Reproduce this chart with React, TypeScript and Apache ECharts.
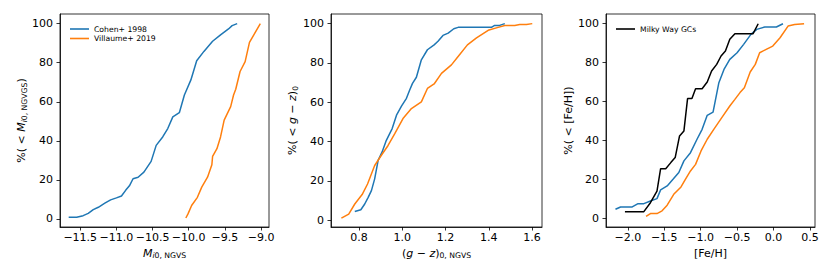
import React, { useEffect, useRef } from 'react';
import * as echarts from 'echarts';

// ---- Data (cumulative percentages) ----
const cohenMag: [number, number][] = [
  [-11.66, 0.9], [-11.55, 0.9], [-11.46, 1.7], [-11.39, 2.9], [-11.32, 4.8], [-11.25, 6.0],
  [-11.16, 8.1], [-11.08, 9.8], [-11.0, 10.8], [-10.93, 11.8], [-10.87, 14.8], [-10.82, 17.0],
  [-10.77, 20.6], [-10.7, 21.4], [-10.62, 24.0], [-10.52, 29.5], [-10.45, 37.7], [-10.36, 42.0],
  [-10.29, 46.3], [-10.22, 52.3], [-10.13, 54.4], [-10.06, 63.5], [-9.97, 71.2], [-9.89, 81.0],
  [-9.79, 85.8], [-9.67, 91.0], [-9.56, 94.3], [-9.45, 97.3], [-9.4, 99.0], [-9.33, 100],
];
const villaumeMag: [number, number][] = [
  [-10.04, 0.5], [-10.01, 2.6], [-9.96, 6.9], [-9.88, 11.1], [-9.82, 16.3], [-9.74, 21.4],
  [-9.68, 27.8], [-9.67, 32.0], [-9.61, 36.0], [-9.56, 42.0], [-9.51, 50.6], [-9.42, 57.5],
  [-9.38, 63.5], [-9.35, 66.4], [-9.29, 75.5], [-9.22, 80.6], [-9.16, 90.4], [-9.1, 94.3],
  [-9.01, 100],
];
const cohenColor: [number, number][] = [
  [0.78, 4.4], [0.808, 5.3], [0.826, 8.2], [0.842, 11.6], [0.857, 15.0], [0.872, 21.0],
  [0.888, 30.4], [0.906, 34.6], [0.926, 40.6], [0.953, 46.6], [0.973, 53.4], [0.996, 58.0],
  [1.019, 62.0], [1.034, 66.2], [1.047, 69.6], [1.065, 72.7], [1.088, 81.6], [1.116, 86.7],
  [1.147, 89.2], [1.165, 91.0], [1.188, 94.0], [1.212, 95.2], [1.238, 97.4], [1.258, 98.1],
  [1.335, 98.1], [1.412, 98.1], [1.427, 99.1], [1.45, 99.1], [1.474, 100],
];
const villaumeColor: [number, number][] = [
  [0.718, 1.0], [0.752, 3.1], [0.78, 8.2], [0.814, 13.0], [0.839, 18.4], [0.872, 27.8],
  [0.903, 33.0], [0.934, 38.0], [0.965, 44.0], [1.003, 51.7], [1.042, 56.8], [1.088, 60.2],
  [1.116, 67.0], [1.147, 69.3], [1.181, 74.7], [1.227, 79.0], [1.258, 83.3], [1.301, 89.2],
  [1.343, 92.7], [1.397, 96.6], [1.443, 98.1], [1.474, 99.0], [1.52, 99.0], [1.543, 99.5],
  [1.574, 99.5], [1.601, 100],
];
const cohenFeH: [number, number][] = [
  [-2.17, 4.6], [-2.1, 5.8], [-1.94, 5.8], [-1.86, 7.5], [-1.78, 7.5], [-1.69, 8.9],
  [-1.6, 10.1], [-1.55, 14.6], [-1.46, 16.6], [-1.38, 20.0], [-1.3, 23.5], [-1.23, 29.5],
  [-1.14, 33.7], [-1.05, 40.6], [-0.98, 45.7], [-0.91, 52.9], [-0.83, 54.6], [-0.75, 69.7],
  [-0.68, 76.5], [-0.6, 81.7], [-0.5, 85.1], [-0.41, 89.4], [-0.31, 94.5], [-0.23, 97.1],
  [-0.12, 98.3], [0.04, 98.3], [0.13, 100],
];
const villaumeFeH: [number, number][] = [
  [-1.75, 0.9], [-1.69, 2.4], [-1.6, 2.4], [-1.53, 3.8], [-1.46, 6.7], [-1.37, 12.3],
  [-1.27, 16.1], [-1.21, 20.0], [-1.14, 24.3], [-1.07, 27.7], [-0.995, 34.6], [-0.91, 40.6],
  [-0.82, 45.7], [-0.71, 51.7], [-0.6, 57.7], [-0.53, 61.1], [-0.46, 64.6], [-0.4, 67.1],
  [-0.32, 75.2], [-0.25, 79.1], [-0.19, 85.1], [-0.1, 86.8], [-0.01, 88.5], [0.09, 92.8],
  [0.2, 98.8], [0.29, 99.6], [0.42, 100],
];
const milkyWayFeH: [number, number][] = [
  [-2.04, 3.4], [-1.78, 3.4], [-1.69, 8.0], [-1.6, 14.0], [-1.55, 25.5], [-1.48, 25.5],
  [-1.41, 28.6], [-1.35, 31.2], [-1.29, 42.3], [-1.23, 44.9], [-1.18, 61.5], [-1.12, 61.5],
  [-1.07, 66.6], [-0.98, 66.6], [-0.91, 70.0], [-0.85, 75.7], [-0.78, 79.1], [-0.72, 83.4],
  [-0.66, 86.0], [-0.6, 92.0], [-0.53, 94.9], [-0.28, 94.9], [-0.21, 100],
];

const magTicks = [-11.5, -11.0, -10.5, -10.0, -9.5, -9.0];
const colorTicks = [0.8, 1.0, 1.2, 1.4, 1.6];
const fehTicks = [-2.0, -1.5, -1.0, -0.5, 0.0, 0.5];
const pctTicks = [0, 20, 40, 60, 80, 100];

const seriesNames = ['Cohen+ 1998', 'Villaume+ 2019', 'Milky Way GCs'];

const BLUE = '#1f77b4';
const ORANGE = '#ff7f0e';
const FONT = 'DejaVu Sans';

const fmt1 = (v: number) => v.toFixed(1).replace('-', '\u2212');

const rich = {
  a: { fontSize: 11, fontFamily: FONT, color: '#000' },
  m: { fontSize: 11, fontFamily: FONT, fontStyle: 'italic', color: '#000' },
  s: { fontSize: 7.7, fontFamily: FONT, color: '#000', padding: [5, 0, 0, 0] },
  si: { fontSize: 7.7, fontFamily: FONT, fontStyle: 'italic', color: '#000', padding: [5, 0, 0, 0] },
};

function xAxisFor(idx: number, min: number, max: number, ticks: number[], name: string, formatter: (v: number) => string) {
  return {
    type: 'value', gridIndex: idx, min, max,
    name, nameLocation: 'middle', nameGap: 19,
    nameTextStyle: { fontFamily: FONT, fontSize: 11, color: '#000', rich },
    axisLine: { show: true, onZero: false, lineStyle: { color: '#000', width: 0.8 } },
    axisTick: { show: true, length: 3.5, customValues: ticks, lineStyle: { color: '#000', width: 0.8 } },
    axisLabel: { customValues: ticks, formatter, margin: 5, fontFamily: FONT, fontSize: 11, color: '#000' },
    splitLine: { show: false },
  };
}
function yAxisFor(idx: number, min: number, max: number, name: string) {
  return {
    type: 'value', gridIndex: idx, min, max,
    name, nameLocation: 'middle', nameGap: 32, nameRotate: 90,
    nameTextStyle: { fontFamily: FONT, fontSize: 11, color: '#000', rich },
    axisLine: { show: true, onZero: false, lineStyle: { color: '#000', width: 0.8 } },
    axisTick: { show: true, length: 3.5, customValues: pctTicks, lineStyle: { color: '#000', width: 0.8 } },
    axisLabel: { customValues: pctTicks, formatter: (v: number) => String(v), margin: 7, fontFamily: FONT, fontSize: 11, color: '#000' },
    splitLine: { show: false },
  };
}
function line(name: string, data: [number, number][], idx: number, color: string) {
  return {
    type: 'line', name, data, xAxisIndex: idx, yAxisIndex: idx,
    showSymbol: false, symbol: 'none', smooth: false,
    lineStyle: { color, width: 1.5 }, itemStyle: { color },
    emphasis: { disabled: true }, z: 3,
  };
}

export default function App() {
  const ref = useRef<HTMLDivElement>(null);
  useEffect(() => {
    if (!ref.current) return;
    const chart = echarts.init(ref.current, null, { renderer: 'svg' });
    const gridBase = { top: 14, height: 213, show: true, borderColor: '#000', borderWidth: 0.8, backgroundColor: 'transparent' };
    chart.setOption({
      animation: false,
      textStyle: { fontFamily: FONT },
      grid: [
        { ...gridBase, left: 60, width: 209 },
        { ...gridBase, left: 331, width: 211 },
        { ...gridBase, left: 606, width: 209 },
      ],
      xAxis: [
        xAxisFor(0, -11.78, -8.89, magTicks, '{m|M}{si|i}{s|0, NGVS}', fmt1),
        xAxisFor(1, 0.67, 1.646, colorTicks, '{a|(}{m|g}{a| \u2212 }{m|z}{a|)}{s|0, NGVS}', fmt1),
        xAxisFor(2, -2.3, 0.57, fehTicks, '{a|[Fe/H]}', fmt1),
      ],
      yAxis: [
        yAxisFor(0, -4.1, 104.95, '{a|%( < }{m|M}{si|i}{s|0, NGVGS}{a|)}'),
        yAxisFor(1, -3.5, 104.9, '{a|%( < }{m|g}{a| \u2212 }{m|z}{a|)}{s|0}'),
        yAxisFor(2, -4.5, 105.0, '{a|%( < [Fe/H])}'),
      ],
      legend: [
        {
          data: [seriesNames[0], seriesNames[1]], left: 65, top: 20, orient: 'vertical',
          icon: 'rect', itemWidth: 19, itemHeight: 1.6, itemGap: 1.5,
          textStyle: { fontFamily: FONT, fontSize: 7.7, color: '#000' }, selectedMode: false,
        },
        {
          data: [seriesNames[2]], left: 611, top: 20, orient: 'vertical',
          icon: 'rect', itemWidth: 19, itemHeight: 1.6,
          textStyle: { fontFamily: FONT, fontSize: 7.7, color: '#000' }, selectedMode: false,
        },
      ],
      series: [
        line(seriesNames[0], cohenMag, 0, BLUE),
        line(seriesNames[1], villaumeMag, 0, ORANGE),
        line(seriesNames[0], cohenColor, 1, BLUE),
        line(seriesNames[1], villaumeColor, 1, ORANGE),
        line(seriesNames[0], cohenFeH, 2, BLUE),
        line(seriesNames[1], villaumeFeH, 2, ORANGE),
        line(seriesNames[2], milkyWayFeH, 2, '#000'),
      ],
    });
    return () => chart.dispose();
  }, []);
  return <div ref={ref} style={{ position: 'absolute', left: 0, top: 0, width: 830, height: 277, background: '#fff' }} />;
}
